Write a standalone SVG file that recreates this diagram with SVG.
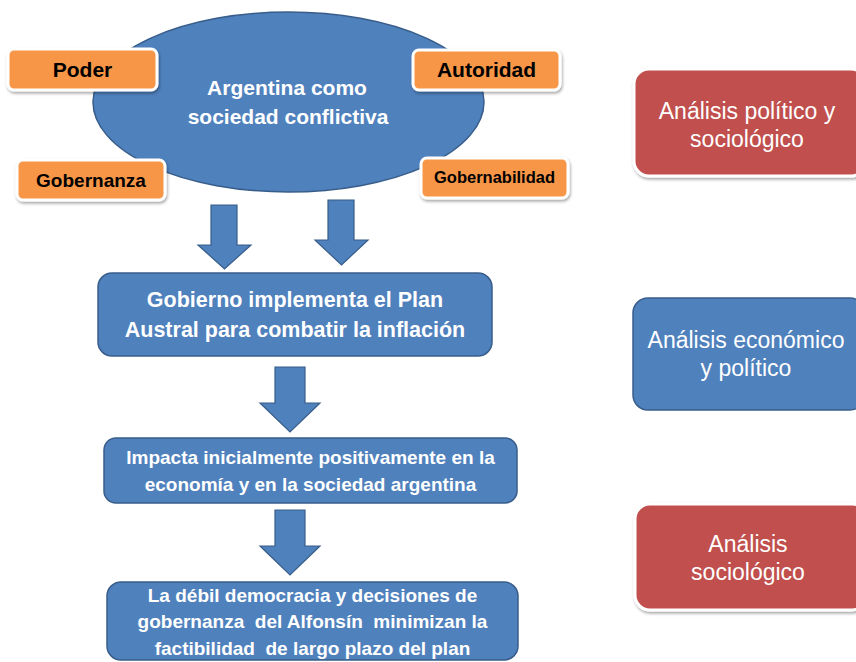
<svg xmlns="http://www.w3.org/2000/svg" width="856" height="662" viewBox="0 0 856 662">
  <defs>
    <filter id="sh" x="-10%" y="-20%" width="120%" height="150%">
      <feDropShadow dx="1" dy="2" stdDeviation="1.5" flood-color="#000" flood-opacity="0.35"/>
    </filter>
  </defs>
  <style>
    .blue { fill: #4F81BD; stroke: #385D8A; stroke-width: 1.5; }
    .orange { fill: #F79646; stroke: #FFFFFF; stroke-width: 3; filter: url(#sh); }
    .red { fill: #C0504D; stroke: #FFFFFF; stroke-width: 3; filter: url(#sh); }
    .arrow { fill: #4F81BD; stroke: #385D8A; stroke-width: 1.2; }
    text { font-family: "Liberation Sans", Arial, sans-serif; text-anchor: middle; white-space: pre; }
    .wb { fill: #FFFFFF; font-weight: bold; }
    .kb { fill: #000000; font-weight: bold; }
    .wr { fill: #FFFFFF; font-size: 23px; }
  </style>
  <rect width="856" height="662" fill="#FFFFFF"/>

  <g id="ellipse-node">
    <ellipse class="blue" cx="288.5" cy="102" rx="195.5" ry="90"/>
    <text class="wb" x="287" y="95" font-size="21">Argentina como</text>
    <text class="wb" x="288" y="124" font-size="21">sociedad conflictiva</text>
  </g>

  <g id="poder">
    <rect class="orange" x="8" y="49" width="149" height="41" rx="6"/>
    <text class="kb" x="82.5" y="77" font-size="21">Poder</text>
  </g>
  <g id="autoridad">
    <rect class="orange" x="413" y="50" width="147" height="40" rx="6"/>
    <text class="kb" x="486.5" y="77" font-size="21">Autoridad</text>
  </g>
  <g id="gobernanza">
    <rect class="orange" x="17" y="160" width="148" height="40" rx="6"/>
    <text class="kb" x="91" y="187" font-size="19">Gobernanza</text>
  </g>
  <g id="gobernabilidad">
    <rect class="orange" x="421" y="158" width="147" height="40" rx="6"/>
    <text class="kb" x="494.5" y="183" font-size="16.5">Gobernabilidad</text>
  </g>

  <g id="connectors">
    <polygon class="arrow" points="211,205 237,205 237,245 251,245 224.5,269 198,245 211,245"/>
    <polygon class="arrow" points="328,200 354,200 354,240 368,240 341.5,265 315,240 328,240"/>
    <polygon class="arrow" points="275,367 305,367 305,403 320,403 290,432 260,403 275,403"/>
    <polygon class="arrow" points="275,510 305,510 305,546 320,546 290,575 260,546 275,546"/>
  </g>

  <g id="plan-austral">
    <rect class="blue" x="98" y="273" width="394" height="83" rx="14"/>
    <text class="wb" x="295" y="307" font-size="21.5">Gobierno implementa el Plan</text>
    <text class="wb" x="295" y="337" font-size="21.5">Austral para combatir la inflación</text>
  </g>

  <g id="impacta">
    <rect class="blue" x="104" y="438" width="413" height="65" rx="12"/>
    <text class="wb" x="310.5" y="464" font-size="19">Impacta inicialmente positivamente en la</text>
    <text class="wb" x="310.5" y="491" font-size="19">economía y en la sociedad argentina</text>
  </g>

  <g id="debil-democracia">
    <rect class="blue" x="107" y="582" width="411" height="78" rx="14"/>
    <text class="wb" x="312.5" y="602" font-size="19">La débil democracia y decisiones de</text>
    <text class="wb" x="312.5" y="628" font-size="19">gobernanza  del Alfonsín  minimizan la</text>
    <text class="wb" x="312.5" y="655" font-size="19">factibilidad  de largo plazo del plan</text>
  </g>

  <g id="analisis-politico-sociologico">
    <rect class="red" x="634" y="69" width="232" height="107" rx="15"/>
    <text class="wr" x="747" y="119">Análisis político y</text>
    <text class="wr" x="747" y="147">sociológico</text>
  </g>

  <g id="analisis-economico-politico">
    <rect class="blue" x="633" y="298" width="232" height="112" rx="15"/>
    <text class="wr" x="746" y="348">Análisis económico</text>
    <text class="wr" x="746" y="376">y político</text>
  </g>

  <g id="analisis-sociologico">
    <rect class="red" x="635" y="504" width="232" height="106" rx="15"/>
    <text class="wr" x="748" y="552">Análisis</text>
    <text class="wr" x="748" y="580">sociológico</text>
  </g>
</svg>
